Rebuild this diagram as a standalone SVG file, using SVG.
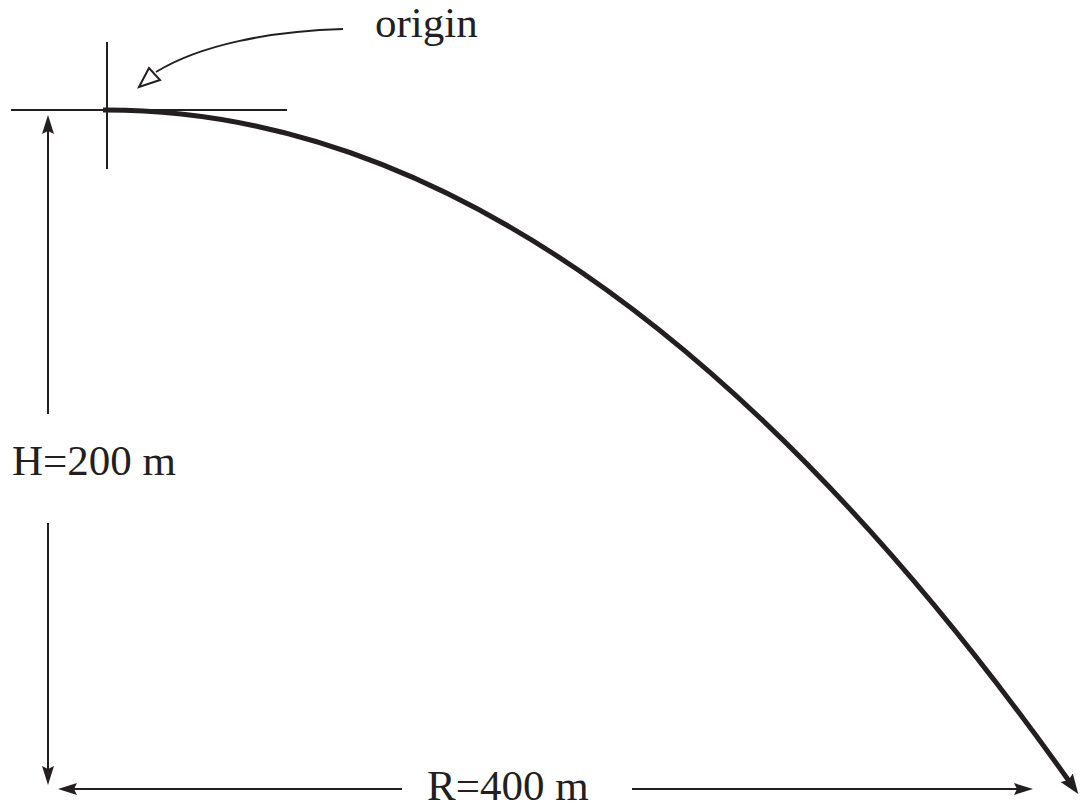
<svg xmlns="http://www.w3.org/2000/svg" width="1084" height="810" viewBox="0 0 1084 810">
<style>
.t{font-family:"Liberation Serif","Times New Roman",serif;font-size:43px;fill:#231f20}
.ln{stroke:#231f20;stroke-width:2;fill:none}
.hd{fill:#231f20;stroke:none}
</style>
<defs>
<marker id="bigArrow" markerUnits="userSpaceOnUse" markerWidth="24" markerHeight="20" viewBox="0 -10 24 20" refX="4" refY="0" orient="auto">
<path d="M0,-7.5 L20,0 L0,7.5 L3,0 z" fill="#231f20"/>
</marker>
</defs>
<rect width="1084" height="810" fill="#fff"/>
<g id="axes">
<line class="ln" x1="11" y1="110" x2="287" y2="110"/>
<line class="ln" x1="107" y1="42" x2="107" y2="169"/>
</g>
<g id="trajectory">
<path d="M103,110 Q590,108 1069,781" stroke="#231f20" stroke-width="5" fill="none" marker-end="url(#bigArrow)"/>
</g>
<g id="origin-label">
<text class="t" x="375" y="37">origin</text>
<path class="ln" d="M343,29 C270,31 200,45 156,72"/>
<path d="M139,87 L149,68 L160,80 z" fill="#fff" stroke="#231f20" stroke-width="2" stroke-linejoin="miter"/>
</g>
<g id="height-dim">
<line class="ln" x1="48" y1="128" x2="48" y2="414"/>
<path class="hd" d="M48,115 L54,134 L48,131 L42,134 z"/>
<line class="ln" x1="48" y1="523" x2="48" y2="772"/>
<path class="hd" d="M48,785 L54,766 L48,769 L42,766 z"/>
<text class="t" x="12" y="475">H=200 m</text>
</g>
<g id="range-dim">
<line class="ln" x1="70" y1="789" x2="402" y2="789"/>
<path class="hd" d="M58,789 L77,783 L74,789 L77,795 z"/>
<line class="ln" x1="632" y1="789" x2="1020" y2="789"/>
<path class="hd" d="M1033,789 L1014,783 L1017,789 L1014,795 z"/>
<text class="t" x="427" y="800">R=400 m</text>
</g>
</svg>
